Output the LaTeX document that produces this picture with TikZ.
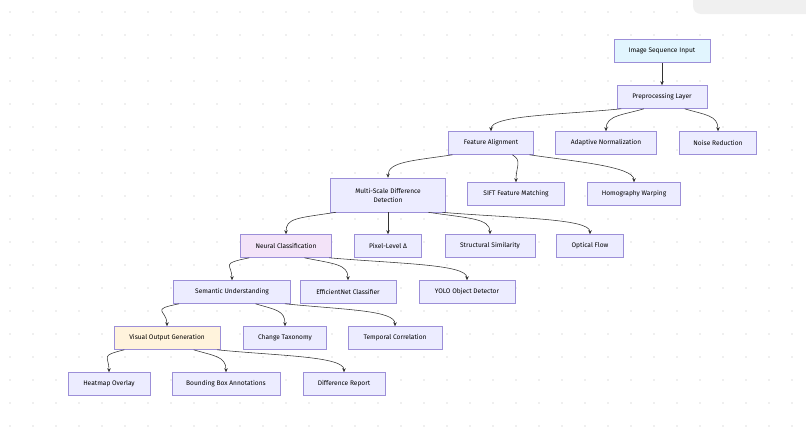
\documentclass[tikz,border=0pt]{standalone}
\usepackage{fontspec}
\setmainfont{Fira Sans}
\usetikzlibrary{arrows.meta,calc}
\definecolor{nfill}{HTML}{ECECFF}
\definecolor{nline}{HTML}{9C8FD8}
\definecolor{bluef}{HTML}{E1F5FE}
\definecolor{purpf}{HTML}{F3E3F8}
\definecolor{yelf}{HTML}{FFF3DC}
\definecolor{edgec}{HTML}{333333}
\tikzset{
  box/.style={draw=nline,fill=nfill,line width=0.6pt,minimum height=23pt,inner sep=2pt,align=center,font=\fontsize{6.6}{9}\selectfont},
  conn/.style={draw=edgec,line width=0.55pt,-{Stealth[length=4pt,width=3.5pt]}},
}
% #1 parent, #2 fraction along bottom (0=left,1=right), #3 child, #4 horizontal control
\newcommand\cedge[4]{\draw[conn] ($(#1.south west)!#2!(#1.south east)$) .. controls +(#4,6) and +(0,-16) .. (#3.north);}
\begin{document}
\begin{tikzpicture}[x=1pt,y=-1pt]
\useasboundingbox (0,0) rectangle (806,426);
\fill[white] (0,0) rectangle (806,426);
\foreach \i in {0,...,35}{\foreach \j in {0,...,18}{\fill[gray!25] (10+23*\i,12+23*\j) circle (0.8);}}
\fill[gray!12,rounded corners=8pt] (693,-10) rectangle (820,14);
\node[box,fill=bluef,minimum width=96pt] (isi) at (662,51) {Image Sequence Input};
\node[box,minimum width=90pt] (pre) at (662,97) {Preprocessing Layer};
\node[box,minimum width=85pt] (fa) at (491,143) {Feature Alignment};
\node[box,minimum width=101pt] (an) at (606,143) {Adaptive Normalization};
\node[box,minimum width=77pt] (nr) at (718,143) {Noise Reduction};
\node[box,minimum width=115pt,minimum height=34pt] (ms) at (388,195) {Multi-Scale Difference\\Detection};
\node[box,minimum width=97pt] (sift) at (516,194) {SIFT Feature Matching};
\node[box,minimum width=93pt] (hw) at (634,194) {Homography Warping};
\node[box,fill=purpf,minimum width=91pt] (nc) at (286,246) {Neural Classification};
\node[box,minimum width=67pt] (pl) at (388,246) {Pixel-Level Δ};
\node[box,minimum width=90pt] (ss) at (490,246) {Structural Similarity};
\node[box,minimum width=67pt] (of) at (590,246) {Optical Flow};
\node[box,minimum width=117pt] (su) at (232,292) {Semantic Understanding};
\node[box,minimum width=96pt] (en) at (348,292) {EfficientNet Classifier};
\node[box,minimum width=96pt] (yolo) at (467,292) {YOLO Object Detector};
\node[box,fill=yelf,minimum width=106pt] (vo) at (167,338) {Visual Output Generation};
\node[box,minimum width=83pt] (ct) at (285,338) {Change Taxonomy};
\node[box,minimum width=94pt] (tc) at (395,338) {Temporal Correlation};
\node[box,minimum width=82pt] (ho) at (109,384) {Heatmap Overlay};
\node[box,minimum width=108pt] (bb) at (226,384) {Bounding Box Annotations};
\node[box,minimum width=82pt] (dr) at (344,384) {Difference Report};
\draw[conn] (isi) -- (pre);
\cedge{pre}{0.05}{fa}{-60}
\cedge{pre}{0.3}{an}{-20}
\cedge{pre}{0.75}{nr}{20}
\cedge{fa}{0.05}{ms}{-40}
\cedge{fa}{0.75}{sift}{10}
\cedge{fa}{0.95}{hw}{40}
\cedge{ms}{0.05}{nc}{-40}
\draw[conn] (ms.south) -- (pl.north);
\cedge{ms}{0.85}{ss}{40}
\cedge{ms}{0.97}{of}{70}
\cedge{nc}{0.1}{su}{-30}
\cedge{nc}{0.7}{en}{30}
\cedge{nc}{0.97}{yolo}{70}
\cedge{su}{0.05}{vo}{-30}
\cedge{su}{0.7}{ct}{20}
\cedge{su}{0.95}{tc}{60}
\cedge{vo}{0.1}{ho}{-25}
\cedge{vo}{0.75}{bb}{20}
\cedge{vo}{0.97}{dr}{60}
\end{tikzpicture}
\end{document}
